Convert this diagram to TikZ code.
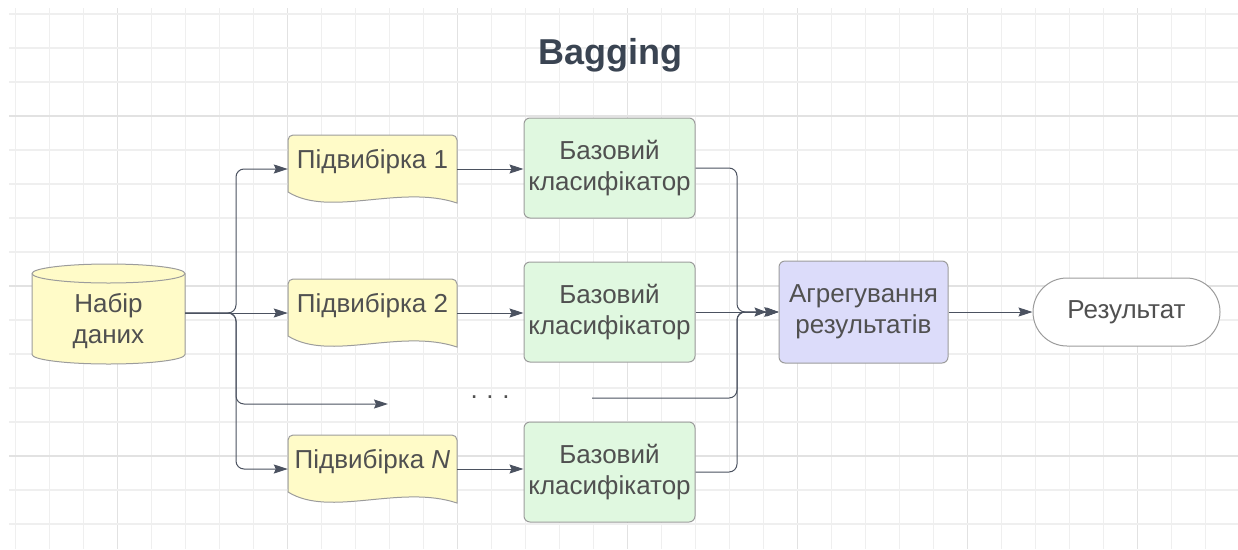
\documentclass[tikz,border=0pt]{standalone}
\usepackage{fontspec}
\setmainfont{Liberation Sans}
\usetikzlibrary{arrows.meta,calc}
\definecolor{gridminor}{HTML}{EFEFEF}
\definecolor{gridmajor}{HTML}{E2E2E2}
\definecolor{docfill}{HTML}{FFFBC8}
\definecolor{clsfill}{HTML}{E0F8E0}
\definecolor{aggfill}{HTML}{DCDCFA}
\definecolor{shapeline}{HTML}{9C9C9C}
\definecolor{txt}{HTML}{505050}
\definecolor{titlecol}{HTML}{3A4452}
\definecolor{conn}{HTML}{4B5260}
\newcommand\docshape[2]{%
  \path[docpath] (#1,#2+57) [rounded corners=5] -- (#1,#2) -- (#1+169,#2) [sharp corners] -- (#1+169,#2+68)
    .. controls (#1+112,#2+49) and (#1+42,#2+83) .. (#1,#2+57) -- cycle;}
\begin{document}
\begin{tikzpicture}[x=1pt,y=-1pt,
  every node/.style={font=\fontsize{26}{31}\selectfont, text=txt, inner sep=0pt},
  docpath/.style={fill=docfill, draw=shapeline, line width=1pt},
  shapebox/.style={minimum width=169pt, minimum height=68pt, align=center},
  clsbox/.style={draw=shapeline, fill=clsfill, line width=1pt, rounded corners=6pt,
    minimum width=171pt, minimum height=100pt, align=center},
  aggbox/.style={draw=shapeline, fill=aggfill, line width=1pt, rounded corners=6pt,
    minimum width=169pt, minimum height=102pt, align=center},
  resbox/.style={draw=shapeline, fill=white, line width=1pt, rounded corners=34pt,
    minimum width=187pt, minimum height=68pt},
  conn/.style={draw=conn, line width=1pt, rounded corners=8pt,
    -{Stealth[length=14pt, width=9pt, inset=2pt]}},
  doubletip/.style={-{Stealth[length=12pt, width=9pt, inset=2pt]Stealth[length=12pt, width=9pt, inset=2pt]}}
]
\useasboundingbox (0,0) rectangle (1238,549);
\fill[white] (0,0) rectangle (1238,549);
% grid
\foreach \k in {0,...,35}{
  \pgfmathtruncatemacro\m{mod(\k,5)}
  \ifnum\m=3
    \draw[gridmajor, line width=1.3pt] (15.5+34*\k,8) -- (15.5+34*\k,549);
  \else
    \draw[gridminor, line width=1.1pt] (15.5+34*\k,8) -- (15.5+34*\k,549);
  \fi}
\foreach \k in {0,...,15}{
  \pgfmathtruncatemacro\m{mod(\k,5)}
  \ifnum\m=3
    \draw[gridmajor, line width=1.3pt] (9,14+34*\k) -- (1238,14+34*\k);
  \else
    \draw[gridminor, line width=1.1pt] (9,14+34*\k) -- (1238,14+34*\k);
  \fi}

% title
\node[font=\fontsize{36}{40}\selectfont\bfseries, text=titlecol] (title) at (610,55) {Bagging};

% data cylinder
\path[docpath] (32,273.5) -- (32,354.5)
  .. controls (32,359.75) and (66.25,364) .. (108.5,364)
  .. controls (150.75,364) and (185,359.75) .. (185,354.5)
  -- (185,273.5)
  .. controls (185,268.25) and (150.75,264) .. (108.5,264)
  .. controls (66.25,264) and (32,268.25) .. (32,273.5) -- cycle;
\draw[shapeline, line width=1pt] (32,273.5)
  .. controls (32,278.75) and (66.25,283) .. (108.5,283)
  .. controls (150.75,283) and (185,278.75) .. (185,273.5);
\node[minimum width=153pt, minimum height=100pt, align=center] (data) at (108.5,321) {Набір\\даних};

% documents
\docshape{288}{135}
\docshape{288}{279}
\docshape{288}{435}
\node[shapebox] (d1) at (372.5,169) {};
\node[shapebox] (d2) at (372.5,313) {};
\node[shapebox] (dN) at (372.5,469) {};
\node at (372.5,162) {Підвибірка 1};
\node at (372.5,306) {Підвибірка 2};
\node at (372.5,462) {Підвибірка \textit{N}};

% classifiers
\node[clsbox] (c1) at (609.5,168) {Базовий\\класифікатор};
\node[clsbox] (c2) at (609.5,312) {Базовий\\класифікатор};
\node[clsbox] (cN) at (609.5,472) {Базовий\\класифікатор};

% aggregation and result
\node[aggbox] (agg) at (863.5,312) {Агрегування\\результатів};
\node[resbox] (res) at (1126.5,312) {Результат};

% dots
\node (dots) at (490,397) {.\,\,.\,\,.};
\coordinate (busL) at (236,313);
\coordinate (busR) at (737,312);
\coordinate (dotsin) at (388,404);
\coordinate (dotsout) at (592,398);

% connectors
\draw[conn] (data.east |- busL) -- (busL) |- (d1.west);
\draw[conn] (data.east |- busL) -- (d2.west);
\draw[conn] (data.east |- busL) -- (busL) |- (dotsin);
\draw[conn] (data.east |- busL) -- (busL) |- (dN.west);

\draw[conn] (d1.east) -- (d1.east -| c1.west);
\draw[conn] (d2.east) -- (d2.east -| c2.west);
\draw[conn] (dN.east) -- (dN.east -| cN.west);

\draw[conn] (c1.east) -| (busR) -- (agg.west);
\draw[conn, doubletip] (c2.east) -- (agg.west);
\draw[conn] (dotsout) -| (busR) -- (agg.west);
\draw[conn] (cN.east) -| (busR) -- (agg.west);

\draw[conn] (agg.east) -- (res.west);
\end{tikzpicture}
\end{document}
